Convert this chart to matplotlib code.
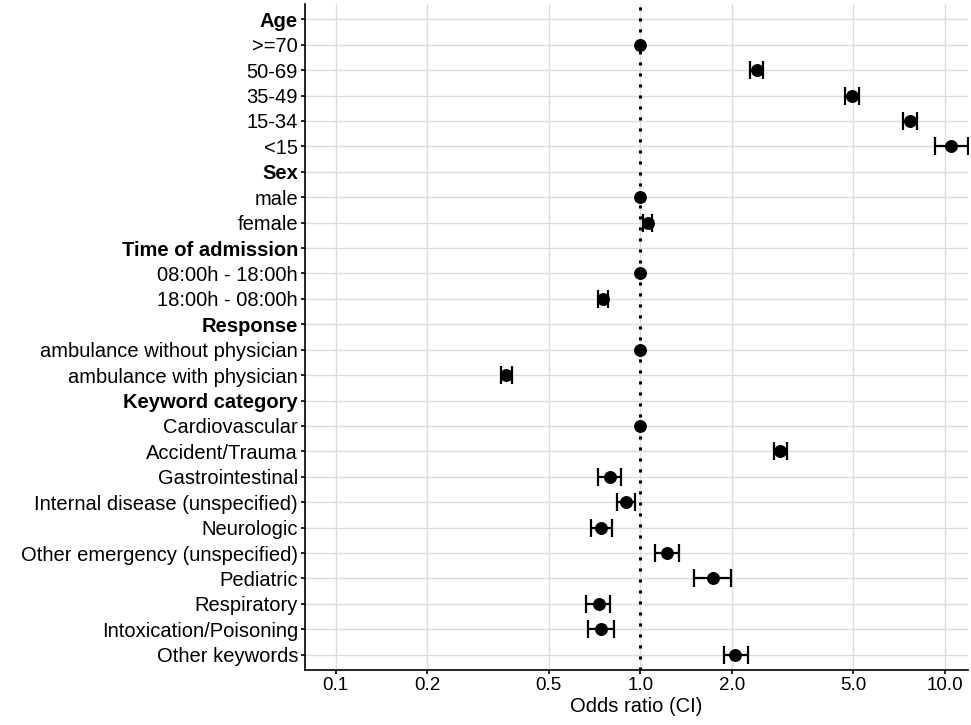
"""
Forest plot of odds ratios with confidence intervals
"""

import numpy as np
import matplotlib
matplotlib.use('Agg')
import matplotlib.pyplot as plt
from matplotlib.ticker import FixedLocator, NullLocator

plt.rcParams['font.family'] = ['Liberation Sans', 'DejaVu Sans']

# Row labels, top to bottom; headers are drawn bold and have no point
labels = ['Age', '>=70', '50-69', '35-49', '15-34', '<15',
          'Sex', 'male', 'female',
          'Time of admission', '08:00h - 18:00h', '18:00h - 08:00h',
          'Response', 'ambulance without physician', 'ambulance with physician',
          'Keyword category', 'Cardiovascular', 'Accident/Trauma', 'Gastrointestinal',
          'Internal disease (unspecified)', 'Neurologic', 'Other emergency (unspecified)',
          'Pediatric', 'Respiratory', 'Intoxication/Poisoning', 'Other keywords']
headers = ['Age', 'Sex', 'Time of admission', 'Response', 'Keyword category']

# Odds ratio and CI per row (nan for headers / no CI for reference groups)
odds = [np.nan, 1.0, 2.42, 4.97, 7.66, 10.5,
        np.nan, 1.0, 1.06,
        np.nan, 1.0, 0.756,
        np.nan, 1.0, 0.362,
        np.nan, 1.0, 2.87, 0.793, 0.90, 0.746, 1.224, 1.73, 0.732, 0.746, 2.05]
lower = [np.nan, np.nan, 2.30, 4.69, 7.28, 9.3,
         np.nan, np.nan, 1.02,
         np.nan, np.nan, 0.729,
         np.nan, np.nan, 0.348,
         np.nan, np.nan, 2.74, 0.729, 0.838, 0.69, 1.118, 1.50, 0.665, 0.675, 1.89]
upper = [np.nan, np.nan, 2.53, 5.24, 8.07, 11.9,
         np.nan, np.nan, 1.09,
         np.nan, np.nan, 0.783,
         np.nan, np.nan, 0.378,
         np.nan, np.nan, 3.03, 0.863, 0.963, 0.806, 1.34, 1.98, 0.798, 0.818, 2.25]

x_ticks = [0.1, 0.2, 0.5, 1.0, 2.0, 5.0, 10.0]

odds = np.array(odds)
lower = np.array(lower)
upper = np.array(upper)
ypos = np.arange(len(labels))

fig = plt.figure(figsize=(9.71, 7.25), dpi=100)
ax = fig.add_axes([305 / 971, 1 - 670 / 725, (968 - 305) / 971, (670 - 4) / 725])

# Confidence intervals
has_ci = ~np.isnan(lower)
ax.errorbar(odds[has_ci], ypos[has_ci],
            xerr=[odds[has_ci] - lower[has_ci], upper[has_ci] - odds[has_ci]],
            fmt='none', ecolor='black', elinewidth=1.6, capsize=6.5, capthick=1.6,
            zorder=3)
# Points
ax.plot(odds, ypos, 'o', color='black', markersize=8.3, zorder=4)

# Reference line
ax.axvline(1.0, color='black', linestyle=(0, (1, 2.6)), linewidth=2.2, zorder=2)

ax.set_xscale('log')
ax.set_xlim(0.0794, 11.9)
ax.xaxis.set_major_locator(FixedLocator(x_ticks))
ax.xaxis.set_minor_locator(NullLocator())
ax.set_xticklabels(['%.1f' % t for t in x_ticks])

ax.set_ylim(len(labels) - 0.4, -0.6)
ax.set_yticks(ypos)
ax.set_yticklabels(labels)
for lab in ax.get_yticklabels():
    if lab.get_text() in headers:
        lab.set_fontweight('bold')

ax.grid(True, color='#dcdcdc', linewidth=1.0, zorder=0)
ax.set_axisbelow(True)

for side in ['top', 'right']:
    ax.spines[side].set_visible(False)
for side in ['left', 'bottom']:
    ax.spines[side].set_linewidth(1.2)

ax.tick_params(axis='y', labelsize=14.5, length=3, width=1.2, color='black',
               labelcolor='black', pad=2)
ax.tick_params(axis='x', labelsize=13.5, length=3, width=1.2, color='black',
               labelcolor='black', pad=2)
ax.set_xlabel('Odds ratio (CI)', fontsize=14.5, labelpad=2)

fig.savefig('out.png', dpi=100)
